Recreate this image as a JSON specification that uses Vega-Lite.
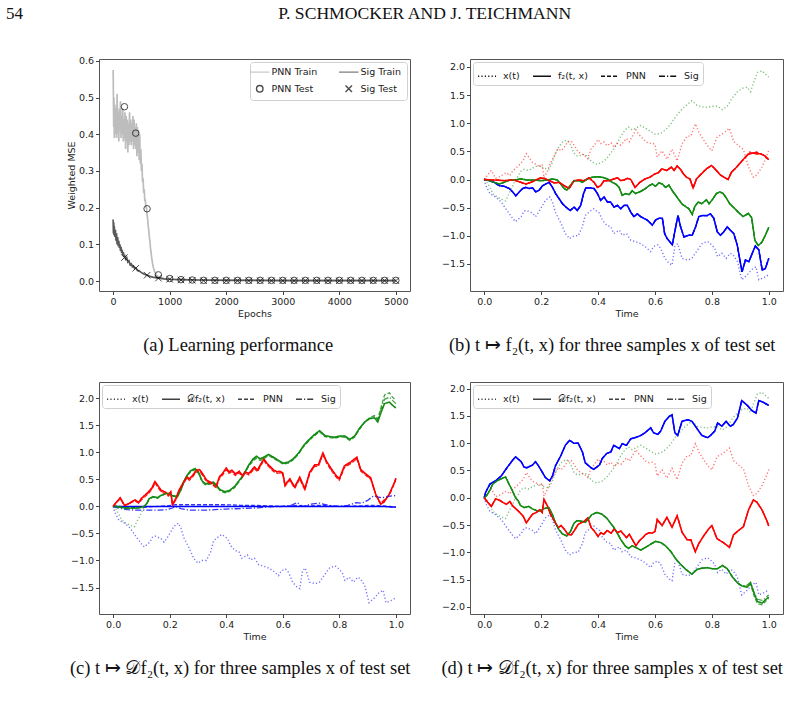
{
"$schema": "https://vega.github.io/schema/vega-lite/v6.json",
"background": "white",
"padding": {"left": 5, "top": 4, "right": 8, "bottom": 5},
"title": {"text": "54", "anchor": "start", "offset": -18, "dx": -60, "fontSize": 17},
"vconcat": [{
"title": {"text": "P. SCHMOCKER AND J. TEICHMANN", "anchor": "middle", "offset": 33, "fontSize": 17.6},
"columns": 2, "bounds": "flush", "align": "each", "spacing": {"row": 91, "column": 60},
"resolve": {"scale": {"color": "independent", "strokeDash": "independent", "shape": "independent"}, "legend": {"color": "independent", "strokeDash": "independent", "shape": "independent"}},
"concat": [
{
"width": 311, "height": 232,
"title": {"text": "(a) Learning performance", "orient": "bottom", "offset": 18, "frame": "bounds"},
"layer": [
{"data": {"name": "aTr"}, "mark": {"type": "line", "strokeWidth": 1.7},
 "encoding": {
  "x": {"field": "e", "type": "quantitative", "scale": {"domain": [-250, 5250], "nice": false, "zero": false}, "axis": {"title": "Epochs", "values": [0,1000,2000,3000,4000,5000], "tickCount": 30, "format": "d", "labelOverlap": false}},
  "y": {"field": "v", "type": "quantitative", "scale": {"domain": [-0.027, 0.605], "nice": false, "zero": false}, "axis": {"title": "Weighted MSE", "values": [0,0.1,0.2,0.3,0.4,0.5,0.6], "tickCount": 30, "format": ".1f", "labelOverlap": false}},
  "color": {"field": "m", "type": "nominal", "scale": {"domain": ["PNN Train","PNN Test","Sig Train","Sig Test"], "range": ["#bdbdbd","#000000","#5a5a5a","#000000"]},
   "legend": {"title": null, "orient": "top-right", "offset": 3, "columns": 2, "symbolSize": 42, "labelOffset": 7, "columnPadding": 18, "rowPadding": 5, "padding": 5, "symbolStrokeWidth": 1.4}}
 }},
{"data": {"name": "aTe"}, "mark": {"type": "point", "filled": false, "size": 42, "strokeWidth": 1},
 "encoding": {
  "x": {"field": "e", "type": "quantitative"},
  "y": {"field": "v", "type": "quantitative"},
  "color": {"field": "m", "type": "nominal"},
  "shape": {"field": "m", "type": "nominal", "scale": {"domain": ["PNN Train","PNN Test","Sig Train","Sig Test"], "range": ["M-3,0H3","circle","M-3,0H3","M-1,-1L1,1M1,-1L-1,1"]},
   "legend": {"title": null, "orient": "top-right", "offset": 3, "columns": 2, "symbolSize": 42, "labelOffset": 7, "columnPadding": 18, "rowPadding": 5, "padding": 5, "symbolStrokeWidth": 1.4}}
 }}
]
},
{
"width": 313, "height": 232,
"title": {"text": "(b) t ↦ f₂(t, x) for three samples x of test set", "orient": "bottom", "offset": 18, "frame": "bounds"},
"layer": [
{"data": {"name": "xp"}, "mark": {"type": "line", "strokeWidth": 1.4, "opacity": 0.55},
 "encoding": {
  "x": {"field": "t", "type": "quantitative", "scale": {"domain": [-0.05, 1.05], "nice": false, "zero": false}, "axis": {"title": "Time", "values": [0,0.2,0.4,0.6,0.8,1], "tickCount": 30, "format": ".1f", "labelOverlap": false}},
  "y": {"field": "v", "type": "quantitative", "scale": {"domain": [-1.98, 2.14], "nice": false, "zero": false}, "axis": {"title": null, "values": [-1.5,-1,-0.5,0,0.5,1,1.5,2], "tickCount": 30, "format": ".1f", "labelOverlap": false}},
  "color": {"field": "s", "type": "nominal", "scale": {"domain": ["b","g","r"], "range": ["#0000ff","#148c14","#ff0000"]}, "legend": null},
  "strokeDash": {"datum": "x(t)", "type": "nominal", "scale": {"domain": ["x(t)","f₂(t, x)","PNN","Sig"], "range": [[1.2,2.2],[1,0],[4,2],[6,2,1.2,2]]},
   "legend": {"title": null, "orient": "top-left", "offset": 3, "columns": 4, "symbolType": "stroke", "symbolSize": 324, "symbolStrokeColor": "#111", "symbolStrokeWidth": 1.3, "symbolOpacity": 1, "labelOffset": 6, "columnPadding": 10, "padding": 4}}
 }},
{"data": {"name": "fb"}, "mark": {"type": "line", "strokeWidth": 1.5},
 "encoding": {"x": {"field": "t", "type": "quantitative"}, "y": {"field": "f", "type": "quantitative"}, "color": {"field": "s", "type": "nominal"}, "strokeDash": {"datum": "f₂(t, x)", "type": "nominal"}}},
{"data": {"name": "fb"}, "mark": {"type": "line", "strokeWidth": 1.3},
 "encoding": {"x": {"field": "t", "type": "quantitative"}, "y": {"field": "p", "type": "quantitative"}, "color": {"field": "s", "type": "nominal"}, "strokeDash": {"datum": "PNN", "type": "nominal"}}},
{"data": {"name": "fb"}, "mark": {"type": "line", "strokeWidth": 1.3},
 "encoding": {"x": {"field": "t", "type": "quantitative"}, "y": {"field": "g", "type": "quantitative"}, "color": {"field": "s", "type": "nominal"}, "strokeDash": {"datum": "Sig", "type": "nominal"}}}
]
},
{
"width": 311, "height": 232,
"title": {"text": "(c) t ↦ 𝒟f₂(t, x) for three samples x of test set", "orient": "bottom", "offset": 18, "frame": "bounds"},
"layer": [
{"data": {"name": "xp"}, "mark": {"type": "line", "strokeWidth": 1.4, "opacity": 0.55},
 "encoding": {
  "x": {"field": "t", "type": "quantitative", "scale": {"domain": [-0.05, 1.05], "nice": false, "zero": false}, "axis": {"title": "Time", "values": [0,0.2,0.4,0.6,0.8,1], "tickCount": 30, "format": ".1f", "labelOverlap": false}},
  "y": {"field": "v", "type": "quantitative", "scale": {"domain": [-1.99, 2.3], "nice": false, "zero": false}, "axis": {"title": null, "values": [-1.5,-1,-0.5,0,0.5,1,1.5,2], "tickCount": 30, "format": ".1f", "labelOverlap": false}},
  "color": {"field": "s", "type": "nominal", "scale": {"domain": ["b","g","r"], "range": ["#0000ff","#148c14","#ff0000"]}, "legend": null},
  "strokeDash": {"datum": "x(t)", "type": "nominal", "scale": {"domain": ["x(t)","𝒟f₂(t, x)","PNN","Sig"], "range": [[1.2,2.2],[1,0],[4,2],[6,2,1.2,2]]},
   "legend": {"title": null, "orient": "top-left", "offset": 3, "columns": 4, "symbolType": "stroke", "symbolSize": 324, "symbolStrokeColor": "#111", "symbolStrokeWidth": 1.3, "symbolOpacity": 1, "labelOffset": 6, "columnPadding": 10, "padding": 4}}
 }},
{"data": {"name": "fc"}, "mark": {"type": "line", "strokeWidth": 1.5},
 "encoding": {"x": {"field": "t", "type": "quantitative"}, "y": {"field": "f", "type": "quantitative"}, "color": {"field": "s", "type": "nominal"}, "strokeDash": {"datum": "𝒟f₂(t, x)", "type": "nominal"}}},
{"data": {"name": "fc"}, "mark": {"type": "line", "strokeWidth": 1.3, "opacity": 0.8},
 "encoding": {"x": {"field": "t", "type": "quantitative"}, "y": {"field": "p", "type": "quantitative"}, "color": {"field": "s", "type": "nominal"}, "strokeDash": {"datum": "PNN", "type": "nominal"}}},
{"data": {"name": "fc"}, "mark": {"type": "line", "strokeWidth": 1.3, "opacity": 0.8},
 "encoding": {"x": {"field": "t", "type": "quantitative"}, "y": {"field": "g", "type": "quantitative"}, "color": {"field": "s", "type": "nominal"}, "strokeDash": {"datum": "Sig", "type": "nominal"}}}
]
},
{
"width": 313, "height": 232,
"title": {"text": "(d) t ↦ 𝒟f₂(t, x) for three samples x of test set", "orient": "bottom", "offset": 18, "frame": "bounds"},
"layer": [
{"data": {"name": "xp"}, "mark": {"type": "line", "strokeWidth": 1.4, "opacity": 0.55},
 "encoding": {
  "x": {"field": "t", "type": "quantitative", "scale": {"domain": [-0.05, 1.05], "nice": false, "zero": false}, "axis": {"title": "Time", "values": [0,0.2,0.4,0.6,0.8,1], "tickCount": 30, "format": ".1f", "labelOverlap": false}},
  "y": {"field": "v", "type": "quantitative", "scale": {"domain": [-2.13, 2.12], "nice": false, "zero": false}, "axis": {"title": null, "values": [-2,-1.5,-1,-0.5,0,0.5,1,1.5,2], "tickCount": 30, "format": ".1f", "labelOverlap": false}},
  "color": {"field": "s", "type": "nominal", "scale": {"domain": ["b","g","r"], "range": ["#0000ff","#148c14","#ff0000"]}, "legend": null},
  "strokeDash": {"datum": "x(t)", "type": "nominal", "scale": {"domain": ["x(t)","𝒟f₂(t, x)","PNN","Sig"], "range": [[1.2,2.2],[1,0],[4,2],[6,2,1.2,2]]},
   "legend": {"title": null, "orient": "top-left", "offset": 3, "columns": 4, "symbolType": "stroke", "symbolSize": 324, "symbolStrokeColor": "#111", "symbolStrokeWidth": 1.3, "symbolOpacity": 1, "labelOffset": 6, "columnPadding": 10, "padding": 4}}
 }},
{"data": {"name": "fd"}, "mark": {"type": "line", "strokeWidth": 1.5},
 "encoding": {"x": {"field": "t", "type": "quantitative"}, "y": {"field": "f", "type": "quantitative"}, "color": {"field": "s", "type": "nominal"}, "strokeDash": {"datum": "𝒟f₂(t, x)", "type": "nominal"}}},
{"data": {"name": "fd"}, "mark": {"type": "line", "strokeWidth": 1.3, "opacity": 0.8},
 "encoding": {"x": {"field": "t", "type": "quantitative"}, "y": {"field": "p", "type": "quantitative"}, "color": {"field": "s", "type": "nominal"}, "strokeDash": {"datum": "PNN", "type": "nominal"}}},
{"data": {"name": "fd"}, "mark": {"type": "line", "strokeWidth": 1.3, "opacity": 0.8},
 "encoding": {"x": {"field": "t", "type": "quantitative"}, "y": {"field": "g", "type": "quantitative"}, "color": {"field": "s", "type": "nominal"}, "strokeDash": {"datum": "Sig", "type": "nominal"}}}
]
}
]
}],
"datasets": {
"aTr": [
{"m":"PNN Train","e":0,"v":0.575},{"m":"PNN Train","e":5,"v":0.50},{"m":"PNN Train","e":10,"v":0.42},{"m":"PNN Train","e":15,"v":0.50},{"m":"PNN Train","e":20,"v":0.39},{"m":"PNN Train","e":30,"v":0.48},{"m":"PNN Train","e":40,"v":0.40},{"m":"PNN Train","e":50,"v":0.47},{"m":"PNN Train","e":60,"v":0.39},{"m":"PNN Train","e":70,"v":0.51},{"m":"PNN Train","e":80,"v":0.40},{"m":"PNN Train","e":90,"v":0.46},{"m":"PNN Train","e":100,"v":0.38},{"m":"PNN Train","e":110,"v":0.47},{"m":"PNN Train","e":120,"v":0.41},{"m":"PNN Train","e":130,"v":0.49},{"m":"PNN Train","e":140,"v":0.39},{"m":"PNN Train","e":150,"v":0.45},{"m":"PNN Train","e":160,"v":0.40},{"m":"PNN Train","e":170,"v":0.47},{"m":"PNN Train","e":180,"v":0.38},{"m":"PNN Train","e":190,"v":0.44},{"m":"PNN Train","e":200,"v":0.39},{"m":"PNN Train","e":210,"v":0.46},{"m":"PNN Train","e":220,"v":0.36},{"m":"PNN Train","e":230,"v":0.45},{"m":"PNN Train","e":240,"v":0.38},{"m":"PNN Train","e":250,"v":0.44},{"m":"PNN Train","e":260,"v":0.35},{"m":"PNN Train","e":270,"v":0.43},{"m":"PNN Train","e":280,"v":0.37},{"m":"PNN Train","e":290,"v":0.46},{"m":"PNN Train","e":300,"v":0.38},{"m":"PNN Train","e":310,"v":0.44},{"m":"PNN Train","e":320,"v":0.37},{"m":"PNN Train","e":330,"v":0.43},{"m":"PNN Train","e":340,"v":0.38},{"m":"PNN Train","e":350,"v":0.45},{"m":"PNN Train","e":360,"v":0.36},{"m":"PNN Train","e":370,"v":0.44},{"m":"PNN Train","e":380,"v":0.37},{"m":"PNN Train","e":390,"v":0.42},{"m":"PNN Train","e":400,"v":0.36},{"m":"PNN Train","e":410,"v":0.43},{"m":"PNN Train","e":420,"v":0.34},{"m":"PNN Train","e":430,"v":0.42},{"m":"PNN Train","e":440,"v":0.35},{"m":"PNN Train","e":450,"v":0.41},{"m":"PNN Train","e":460,"v":0.33},{"m":"PNN Train","e":470,"v":0.40},{"m":"PNN Train","e":480,"v":0.32},{"m":"PNN Train","e":490,"v":0.36},{"m":"PNN Train","e":500,"v":0.30},{"m":"PNN Train","e":510,"v":0.32},{"m":"PNN Train","e":520,"v":0.27},{"m":"PNN Train","e":530,"v":0.28},{"m":"PNN Train","e":540,"v":0.24},{"m":"PNN Train","e":550,"v":0.25},{"m":"PNN Train","e":560,"v":0.22},{"m":"PNN Train","e":570,"v":0.22},{"m":"PNN Train","e":580,"v":0.20},{"m":"PNN Train","e":590,"v":0.20},{"m":"PNN Train","e":600,"v":0.18},{"m":"PNN Train","e":610,"v":0.17},{"m":"PNN Train","e":620,"v":0.15},{"m":"PNN Train","e":630,"v":0.14},{"m":"PNN Train","e":640,"v":0.12},{"m":"PNN Train","e":650,"v":0.11},{"m":"PNN Train","e":660,"v":0.09},{"m":"PNN Train","e":670,"v":0.08},{"m":"PNN Train","e":680,"v":0.065},{"m":"PNN Train","e":690,"v":0.055},{"m":"PNN Train","e":700,"v":0.045},{"m":"PNN Train","e":720,"v":0.032},{"m":"PNN Train","e":740,"v":0.024},{"m":"PNN Train","e":760,"v":0.018},{"m":"PNN Train","e":780,"v":0.014},{"m":"PNN Train","e":800,"v":0.012},{"m":"PNN Train","e":850,"v":0.009},{"m":"PNN Train","e":900,"v":0.007},{"m":"PNN Train","e":1000,"v":0.005},{"m":"PNN Train","e":1200,"v":0.004},{"m":"PNN Train","e":1500,"v":0.003},{"m":"PNN Train","e":2000,"v":0.0025},{"m":"PNN Train","e":3000,"v":0.002},{"m":"PNN Train","e":4000,"v":0.002},{"m":"PNN Train","e":5000,"v":0.002},
{"m":"Sig Train","e":0,"v":0.168},{"m":"Sig Train","e":5,"v":0.13},{"m":"Sig Train","e":10,"v":0.16},{"m":"Sig Train","e":15,"v":0.125},{"m":"Sig Train","e":20,"v":0.15},{"m":"Sig Train","e":30,"v":0.12},{"m":"Sig Train","e":40,"v":0.14},{"m":"Sig Train","e":50,"v":0.11},{"m":"Sig Train","e":60,"v":0.13},{"m":"Sig Train","e":70,"v":0.10},{"m":"Sig Train","e":80,"v":0.12},{"m":"Sig Train","e":90,"v":0.095},{"m":"Sig Train","e":100,"v":0.11},{"m":"Sig Train","e":110,"v":0.09},{"m":"Sig Train","e":120,"v":0.10},{"m":"Sig Train","e":130,"v":0.082},{"m":"Sig Train","e":140,"v":0.093},{"m":"Sig Train","e":150,"v":0.077},{"m":"Sig Train","e":160,"v":0.085},{"m":"Sig Train","e":170,"v":0.071},{"m":"Sig Train","e":180,"v":0.079},{"m":"Sig Train","e":190,"v":0.066},{"m":"Sig Train","e":200,"v":0.072},{"m":"Sig Train","e":220,"v":0.060},{"m":"Sig Train","e":240,"v":0.064},{"m":"Sig Train","e":260,"v":0.052},{"m":"Sig Train","e":280,"v":0.055},{"m":"Sig Train","e":300,"v":0.045},{"m":"Sig Train","e":320,"v":0.047},{"m":"Sig Train","e":340,"v":0.039},{"m":"Sig Train","e":360,"v":0.041},{"m":"Sig Train","e":380,"v":0.034},{"m":"Sig Train","e":400,"v":0.036},{"m":"Sig Train","e":430,"v":0.029},{"m":"Sig Train","e":460,"v":0.028},{"m":"Sig Train","e":500,"v":0.023},{"m":"Sig Train","e":550,"v":0.019},{"m":"Sig Train","e":600,"v":0.016},{"m":"Sig Train","e":650,"v":0.013},{"m":"Sig Train","e":700,"v":0.011},{"m":"Sig Train","e":800,"v":0.008},{"m":"Sig Train","e":900,"v":0.006},{"m":"Sig Train","e":1000,"v":0.005},{"m":"Sig Train","e":1200,"v":0.004},{"m":"Sig Train","e":1500,"v":0.003},{"m":"Sig Train","e":2000,"v":0.002},{"m":"Sig Train","e":3000,"v":0.0015},{"m":"Sig Train","e":4000,"v":0.0012},{"m":"Sig Train","e":5000,"v":0.001}
],
"aTe": [
{"m":"PNN Test","e":200,"v":0.475},{"m":"PNN Test","e":400,"v":0.403},{"m":"PNN Test","e":600,"v":0.197},{"m":"PNN Test","e":800,"v":0.017},{"m":"PNN Test","e":1000,"v":0.007},{"m":"PNN Test","e":1200,"v":0.004},{"m":"PNN Test","e":1400,"v":0.003},{"m":"PNN Test","e":1600,"v":0.002},{"m":"PNN Test","e":1800,"v":0.002},{"m":"PNN Test","e":2000,"v":0.002},{"m":"PNN Test","e":2200,"v":0.002},{"m":"PNN Test","e":2400,"v":0.002},{"m":"PNN Test","e":2600,"v":0.002},{"m":"PNN Test","e":2800,"v":0.002},{"m":"PNN Test","e":3000,"v":0.002},{"m":"PNN Test","e":3200,"v":0.002},{"m":"PNN Test","e":3400,"v":0.002},{"m":"PNN Test","e":3600,"v":0.002},{"m":"PNN Test","e":3800,"v":0.002},{"m":"PNN Test","e":4000,"v":0.002},{"m":"PNN Test","e":4200,"v":0.002},{"m":"PNN Test","e":4400,"v":0.002},{"m":"PNN Test","e":4600,"v":0.002},{"m":"PNN Test","e":4800,"v":0.002},{"m":"PNN Test","e":5000,"v":0.002},
{"m":"Sig Test","e":200,"v":0.064},{"m":"Sig Test","e":400,"v":0.035},{"m":"Sig Test","e":600,"v":0.016},{"m":"Sig Test","e":800,"v":0.008},{"m":"Sig Test","e":1000,"v":0.005},{"m":"Sig Test","e":1200,"v":0.003},{"m":"Sig Test","e":1400,"v":0.002},{"m":"Sig Test","e":1600,"v":0.001},{"m":"Sig Test","e":1800,"v":0.001},{"m":"Sig Test","e":2000,"v":0.001},{"m":"Sig Test","e":2200,"v":0.001},{"m":"Sig Test","e":2400,"v":0.001},{"m":"Sig Test","e":2600,"v":0.001},{"m":"Sig Test","e":2800,"v":0.001},{"m":"Sig Test","e":3000,"v":0.001},{"m":"Sig Test","e":3200,"v":0.001},{"m":"Sig Test","e":3400,"v":0.001},{"m":"Sig Test","e":3600,"v":0.001},{"m":"Sig Test","e":3800,"v":0.001},{"m":"Sig Test","e":4000,"v":0.001},{"m":"Sig Test","e":4200,"v":0.001},{"m":"Sig Test","e":4400,"v":0.001},{"m":"Sig Test","e":4600,"v":0.001},{"m":"Sig Test","e":4800,"v":0.001},{"m":"Sig Test","e":5000,"v":0.001}
],
"xp": [
{"s":"b","t":0,"v":0},{"s":"b","t":0.005,"v":-0.10},{"s":"b","t":0.02,"v":-0.25},{"s":"b","t":0.04,"v":-0.31},{"s":"b","t":0.06,"v":-0.40},{"s":"b","t":0.08,"v":-0.55},{"s":"b","t":0.10,"v":-0.69},{"s":"b","t":0.11,"v":-0.75},{"s":"b","t":0.13,"v":-0.66},{"s":"b","t":0.14,"v":-0.56},{"s":"b","t":0.15,"v":-0.55},{"s":"b","t":0.17,"v":-0.60},{"s":"b","t":0.18,"v":-0.66},{"s":"b","t":0.19,"v":-0.59},{"s":"b","t":0.205,"v":-0.46},{"s":"b","t":0.215,"v":-0.37},{"s":"b","t":0.23,"v":-0.31},{"s":"b","t":0.24,"v":-0.40},{"s":"b","t":0.25,"v":-0.58},{"s":"b","t":0.27,"v":-0.78},{"s":"b","t":0.285,"v":-0.96},{"s":"b","t":0.30,"v":-1.05},{"s":"b","t":0.315,"v":-1.00},{"s":"b","t":0.33,"v":-1.00},{"s":"b","t":0.345,"v":-0.84},{"s":"b","t":0.355,"v":-0.64},{"s":"b","t":0.375,"v":-0.55},{"s":"b","t":0.385,"v":-0.52},{"s":"b","t":0.405,"v":-0.60},{"s":"b","t":0.415,"v":-0.72},{"s":"b","t":0.43,"v":-0.81},{"s":"b","t":0.445,"v":-0.84},{"s":"b","t":0.455,"v":-0.96},{"s":"b","t":0.475,"v":-0.90},{"s":"b","t":0.485,"v":-0.99},{"s":"b","t":0.50,"v":-0.96},{"s":"b","t":0.515,"v":-1.08},{"s":"b","t":0.53,"v":-1.10},{"s":"b","t":0.55,"v":-1.14},{"s":"b","t":0.565,"v":-1.19},{"s":"b","t":0.585,"v":-1.28},{"s":"b","t":0.595,"v":-1.19},{"s":"b","t":0.61,"v":-1.16},{"s":"b","t":0.62,"v":-1.22},{"s":"b","t":0.635,"v":-1.40},{"s":"b","t":0.65,"v":-1.49},{"s":"b","t":0.66,"v":-1.52},{"s":"b","t":0.67,"v":-1.19},{"s":"b","t":0.68,"v":-1.14},{"s":"b","t":0.695,"v":-1.40},{"s":"b","t":0.715,"v":-1.43},{"s":"b","t":0.73,"v":-1.40},{"s":"b","t":0.75,"v":-1.25},{"s":"b","t":0.765,"v":-1.14},{"s":"b","t":0.785,"v":-1.10},{"s":"b","t":0.795,"v":-1.14},{"s":"b","t":0.81,"v":-1.22},{"s":"b","t":0.82,"v":-1.37},{"s":"b","t":0.835,"v":-1.31},{"s":"b","t":0.85,"v":-1.40},{"s":"b","t":0.865,"v":-1.31},{"s":"b","t":0.875,"v":-1.34},{"s":"b","t":0.89,"v":-1.46},{"s":"b","t":0.905,"v":-1.78},{"s":"b","t":0.925,"v":-1.69},{"s":"b","t":0.94,"v":-1.60},{"s":"b","t":0.955,"v":-1.55},{"s":"b","t":0.965,"v":-1.78},{"s":"b","t":0.98,"v":-1.75},{"s":"b","t":1.0,"v":-1.69},
{"s":"g","t":0,"v":0},{"s":"g","t":0.01,"v":-0.05},{"s":"g","t":0.02,"v":-0.14},{"s":"g","t":0.03,"v":-0.25},{"s":"g","t":0.045,"v":-0.31},{"s":"g","t":0.065,"v":-0.36},{"s":"g","t":0.075,"v":-0.38},{"s":"g","t":0.087,"v":-0.25},{"s":"g","t":0.098,"v":-0.14},{"s":"g","t":0.11,"v":0.0},{"s":"g","t":0.12,"v":0.06},{"s":"g","t":0.127,"v":0.14},{"s":"g","t":0.14,"v":0.18},{"s":"g","t":0.157,"v":0.16},{"s":"g","t":0.168,"v":0.20},{"s":"g","t":0.186,"v":0.24},{"s":"g","t":0.198,"v":0.24},{"s":"g","t":0.209,"v":0.20},{"s":"g","t":0.227,"v":0.18},{"s":"g","t":0.239,"v":0.30},{"s":"g","t":0.25,"v":0.46},{"s":"g","t":0.262,"v":0.58},{"s":"g","t":0.274,"v":0.66},{"s":"g","t":0.29,"v":0.70},{"s":"g","t":0.303,"v":0.62},{"s":"g","t":0.315,"v":0.47},{"s":"g","t":0.326,"v":0.42},{"s":"g","t":0.343,"v":0.43},{"s":"g","t":0.355,"v":0.45},{"s":"g","t":0.366,"v":0.39},{"s":"g","t":0.378,"v":0.31},{"s":"g","t":0.396,"v":0.27},{"s":"g","t":0.413,"v":0.30},{"s":"g","t":0.43,"v":0.37},{"s":"g","t":0.443,"v":0.46},{"s":"g","t":0.455,"v":0.54},{"s":"g","t":0.467,"v":0.64},{"s":"g","t":0.479,"v":0.76},{"s":"g","t":0.495,"v":0.88},{"s":"g","t":0.507,"v":0.93},{"s":"g","t":0.52,"v":0.88},{"s":"g","t":0.532,"v":0.91},{"s":"g","t":0.55,"v":0.96},{"s":"g","t":0.567,"v":0.91},{"s":"g","t":0.585,"v":0.85},{"s":"g","t":0.602,"v":0.80},{"s":"g","t":0.62,"v":0.82},{"s":"g","t":0.637,"v":0.88},{"s":"g","t":0.655,"v":0.98},{"s":"g","t":0.673,"v":1.12},{"s":"g","t":0.69,"v":1.22},{"s":"g","t":0.708,"v":1.31},{"s":"g","t":0.73,"v":1.40},{"s":"g","t":0.749,"v":1.31},{"s":"g","t":0.767,"v":1.29},{"s":"g","t":0.784,"v":1.28},{"s":"g","t":0.80,"v":1.30},{"s":"g","t":0.82,"v":1.30},{"s":"g","t":0.837,"v":1.24},{"s":"g","t":0.854,"v":1.30},{"s":"g","t":0.872,"v":1.45},{"s":"g","t":0.89,"v":1.56},{"s":"g","t":0.907,"v":1.62},{"s":"g","t":0.924,"v":1.64},{"s":"g","t":0.936,"v":1.56},{"s":"g","t":0.947,"v":1.73},{"s":"g","t":0.96,"v":1.90},{"s":"g","t":0.977,"v":1.93},{"s":"g","t":0.988,"v":1.87},{"s":"g","t":1.0,"v":1.82},
{"s":"r","t":0,"v":0},{"s":"r","t":0.01,"v":0.07},{"s":"r","t":0.025,"v":0.16},{"s":"r","t":0.04,"v":0.02},{"s":"r","t":0.055,"v":0.05},{"s":"r","t":0.067,"v":0.09},{"s":"r","t":0.078,"v":0.12},{"s":"r","t":0.09,"v":0.07},{"s":"r","t":0.10,"v":0.15},{"s":"r","t":0.113,"v":0.21},{"s":"r","t":0.125,"v":0.27},{"s":"r","t":0.137,"v":0.34},{"s":"r","t":0.148,"v":0.46},{"s":"r","t":0.16,"v":0.37},{"s":"r","t":0.17,"v":0.30},{"s":"r","t":0.183,"v":0.27},{"s":"r","t":0.195,"v":0.22},{"s":"r","t":0.204,"v":0.27},{"s":"r","t":0.21,"v":0.03},{"s":"r","t":0.222,"v":0.15},{"s":"r","t":0.233,"v":0.30},{"s":"r","t":0.247,"v":0.43},{"s":"r","t":0.26,"v":0.55},{"s":"r","t":0.27,"v":0.51},{"s":"r","t":0.282,"v":0.58},{"s":"r","t":0.294,"v":0.67},{"s":"r","t":0.306,"v":0.68},{"s":"r","t":0.317,"v":0.60},{"s":"r","t":0.33,"v":0.49},{"s":"r","t":0.34,"v":0.46},{"s":"r","t":0.352,"v":0.43},{"s":"r","t":0.364,"v":0.37},{"s":"r","t":0.376,"v":0.55},{"s":"r","t":0.387,"v":0.61},{"s":"r","t":0.40,"v":0.71},{"s":"r","t":0.41,"v":0.64},{"s":"r","t":0.42,"v":0.67},{"s":"r","t":0.432,"v":0.60},{"s":"r","t":0.446,"v":0.65},{"s":"r","t":0.457,"v":0.57},{"s":"r","t":0.467,"v":0.64},{"s":"r","t":0.48,"v":0.61},{"s":"r","t":0.49,"v":0.67},{"s":"r","t":0.50,"v":0.73},{"s":"r","t":0.51,"v":0.67},{"s":"r","t":0.533,"v":0.88},{"s":"r","t":0.545,"v":0.79},{"s":"r","t":0.557,"v":0.73},{"s":"r","t":0.568,"v":0.67},{"s":"r","t":0.58,"v":0.64},{"s":"r","t":0.59,"v":0.65},{"s":"r","t":0.60,"v":0.62},{"s":"r","t":0.608,"v":0.40},{"s":"r","t":0.625,"v":0.51},{"s":"r","t":0.642,"v":0.36},{"s":"r","t":0.66,"v":0.54},{"s":"r","t":0.678,"v":0.33},{"s":"r","t":0.695,"v":0.63},{"s":"r","t":0.713,"v":0.77},{"s":"r","t":0.726,"v":0.77},{"s":"r","t":0.742,"v":0.99},{"s":"r","t":0.754,"v":0.84},{"s":"r","t":0.771,"v":0.70},{"s":"r","t":0.789,"v":0.57},{"s":"r","t":0.80,"v":0.51},{"s":"r","t":0.818,"v":0.75},{"s":"r","t":0.84,"v":0.82},{"s":"r","t":0.862,"v":0.91},{"s":"r","t":0.876,"v":0.68},{"s":"r","t":0.894,"v":0.60},{"s":"r","t":0.911,"v":0.53},{"s":"r","t":0.929,"v":0.22},{"s":"r","t":0.946,"v":0.04},{"s":"r","t":0.958,"v":0.08},{"s":"r","t":0.976,"v":0.22},{"s":"r","t":0.994,"v":0.43},{"s":"r","t":1.0,"v":0.52}
],
"fb": [
{"s":"b","t":0,"f":0,"p":0,"g":0},{"s":"b","t":0.018,"f":-0.02,"p":-0.02,"g":-0.02},{"s":"b","t":0.035,"f":-0.05,"p":-0.05,"g":-0.05},{"s":"b","t":0.053,"f":-0.11,"p":-0.11,"g":-0.11},{"s":"b","t":0.07,"f":-0.12,"p":-0.12,"g":-0.12},{"s":"b","t":0.088,"f":-0.16,"p":-0.16,"g":-0.16},{"s":"b","t":0.1,"f":-0.22,"p":-0.22,"g":-0.22},{"s":"b","t":0.111,"f":-0.29,"p":-0.29,"g":-0.29},{"s":"b","t":0.123,"f":-0.22,"p":-0.22,"g":-0.22},{"s":"b","t":0.135,"f":-0.16,"p":-0.16,"g":-0.16},{"s":"b","t":0.146,"f":-0.14,"p":-0.14,"g":-0.14},{"s":"b","t":0.158,"f":-0.16,"p":-0.16,"g":-0.16},{"s":"b","t":0.17,"f":-0.15,"p":-0.15,"g":-0.15},{"s":"b","t":0.181,"f":-0.22,"p":-0.22,"g":-0.22},{"s":"b","t":0.193,"f":-0.19,"p":-0.19,"g":-0.19},{"s":"b","t":0.205,"f":-0.11,"p":-0.11,"g":-0.11},{"s":"b","t":0.216,"f":-0.08,"p":-0.08,"g":-0.08},{"s":"b","t":0.228,"f":-0.05,"p":-0.05,"g":-0.05},{"s":"b","t":0.24,"f":-0.14,"p":-0.14,"g":-0.14},{"s":"b","t":0.251,"f":-0.25,"p":-0.25,"g":-0.25},{"s":"b","t":0.263,"f":-0.34,"p":-0.34,"g":-0.34},{"s":"b","t":0.275,"f":-0.43,"p":-0.43,"g":-0.43},{"s":"b","t":0.287,"f":-0.49,"p":-0.49,"g":-0.49},{"s":"b","t":0.302,"f":-0.55,"p":-0.55,"g":-0.55},{"s":"b","t":0.316,"f":-0.49,"p":-0.49,"g":-0.49},{"s":"b","t":0.327,"f":-0.55,"p":-0.55,"g":-0.55},{"s":"b","t":0.339,"f":-0.46,"p":-0.46,"g":-0.46},{"s":"b","t":0.349,"f":-0.25,"p":-0.25,"g":-0.25},{"s":"b","t":0.357,"f":-0.15,"p":-0.15,"g":-0.15},{"s":"b","t":0.374,"f":-0.15,"p":-0.15,"g":-0.15},{"s":"b","t":0.386,"f":-0.16,"p":-0.16,"g":-0.16},{"s":"b","t":0.398,"f":-0.25,"p":-0.25,"g":-0.25},{"s":"b","t":0.409,"f":-0.37,"p":-0.37,"g":-0.37},{"s":"b","t":0.421,"f":-0.31,"p":-0.31,"g":-0.31},{"s":"b","t":0.433,"f":-0.40,"p":-0.40,"g":-0.40},{"s":"b","t":0.444,"f":-0.40,"p":-0.40,"g":-0.40},{"s":"b","t":0.456,"f":-0.49,"p":-0.49,"g":-0.49},{"s":"b","t":0.468,"f":-0.46,"p":-0.46,"g":-0.46},{"s":"b","t":0.48,"f":-0.52,"p":-0.52,"g":-0.52},{"s":"b","t":0.491,"f":-0.46,"p":-0.46,"g":-0.46},{"s":"b","t":0.503,"f":-0.46,"p":-0.46,"g":-0.46},{"s":"b","t":0.515,"f":-0.58,"p":-0.58,"g":-0.58},{"s":"b","t":0.526,"f":-0.66,"p":-0.66,"g":-0.66},{"s":"b","t":0.538,"f":-0.61,"p":-0.61,"g":-0.61},{"s":"b","t":0.55,"f":-0.66,"p":-0.66,"g":-0.66},{"s":"b","t":0.561,"f":-0.69,"p":-0.69,"g":-0.69},{"s":"b","t":0.573,"f":-0.72,"p":-0.72,"g":-0.72},{"s":"b","t":0.585,"f":-0.78,"p":-0.78,"g":-0.78},{"s":"b","t":0.591,"f":-0.81,"p":-0.81,"g":-0.81},{"s":"b","t":0.602,"f":-0.72,"p":-0.72,"g":-0.72},{"s":"b","t":0.614,"f":-0.69,"p":-0.69,"g":-0.69},{"s":"b","t":0.626,"f":-0.69,"p":-0.69,"g":-0.69},{"s":"b","t":0.634,"f":-0.96,"p":-0.96,"g":-0.96},{"s":"b","t":0.643,"f":-1.05,"p":-1.05,"g":-1.05},{"s":"b","t":0.661,"f":-1.16,"p":-1.16,"g":-1.16},{"s":"b","t":0.673,"f":-0.84,"p":-0.84,"g":-0.84},{"s":"b","t":0.681,"f":-0.64,"p":-0.64,"g":-0.64},{"s":"b","t":0.69,"f":-0.84,"p":-0.84,"g":-0.84},{"s":"b","t":0.702,"f":-1.02,"p":-1.02,"g":-1.02},{"s":"b","t":0.719,"f":-0.99,"p":-0.99,"g":-0.99},{"s":"b","t":0.731,"f":-0.99,"p":-0.99,"g":-0.99},{"s":"b","t":0.743,"f":-0.84,"p":-0.84,"g":-0.84},{"s":"b","t":0.754,"f":-0.66,"p":-0.66,"g":-0.66},{"s":"b","t":0.766,"f":-0.64,"p":-0.64,"g":-0.64},{"s":"b","t":0.784,"f":-0.64,"p":-0.64,"g":-0.64},{"s":"b","t":0.795,"f":-0.61,"p":-0.61,"g":-0.61},{"s":"b","t":0.807,"f":-0.69,"p":-0.69,"g":-0.69},{"s":"b","t":0.819,"f":-0.93,"p":-0.93,"g":-0.93},{"s":"b","t":0.83,"f":-0.99,"p":-0.99,"g":-0.99},{"s":"b","t":0.842,"f":-0.93,"p":-0.93,"g":-0.93},{"s":"b","t":0.854,"f":-0.84,"p":-0.84,"g":-0.84},{"s":"b","t":0.865,"f":-0.90,"p":-0.90,"g":-0.90},{"s":"b","t":0.877,"f":-0.96,"p":-0.96,"g":-0.96},{"s":"b","t":0.889,"f":-1.16,"p":-1.16,"g":-1.16},{"s":"b","t":0.906,"f":-1.64,"p":-1.64,"g":-1.64},{"s":"b","t":0.918,"f":-1.43,"p":-1.43,"g":-1.43},{"s":"b","t":0.93,"f":-1.46,"p":-1.46,"g":-1.46},{"s":"b","t":0.942,"f":-1.31,"p":-1.31,"g":-1.31},{"s":"b","t":0.953,"f":-1.18,"p":-1.18,"g":-1.18},{"s":"b","t":0.965,"f":-1.25,"p":-1.25,"g":-1.25},{"s":"b","t":0.977,"f":-1.61,"p":-1.61,"g":-1.61},{"s":"b","t":0.988,"f":-1.58,"p":-1.58,"g":-1.58},{"s":"b","t":1.0,"f":-1.40,"p":-1.40,"g":-1.40},
{"s":"g","t":0,"f":0,"p":0,"g":0},{"s":"g","t":0.018,"f":-0.02,"p":-0.02,"g":-0.02},{"s":"g","t":0.035,"f":-0.05,"p":-0.05,"g":-0.05},{"s":"g","t":0.053,"f":-0.08,"p":-0.08,"g":-0.08},{"s":"g","t":0.07,"f":-0.05,"p":-0.05,"g":-0.05},{"s":"g","t":0.088,"f":-0.01,"p":-0.01,"g":-0.01},{"s":"g","t":0.105,"f":-0.01,"p":-0.01,"g":-0.01},{"s":"g","t":0.129,"f":0.01,"p":0.01,"g":0.01},{"s":"g","t":0.152,"f":-0.01,"p":-0.01,"g":-0.01},{"s":"g","t":0.175,"f":-0.01,"p":-0.01,"g":-0.01},{"s":"g","t":0.199,"f":-0.02,"p":-0.02,"g":-0.02},{"s":"g","t":0.222,"f":-0.01,"p":-0.01,"g":-0.01},{"s":"g","t":0.24,"f":0.01,"p":0.01,"g":0.01},{"s":"g","t":0.257,"f":-0.01,"p":-0.01,"g":-0.01},{"s":"g","t":0.269,"f":-0.08,"p":-0.08,"g":-0.08},{"s":"g","t":0.281,"f":-0.16,"p":-0.16,"g":-0.16},{"s":"g","t":0.29,"f":-0.19,"p":-0.19,"g":-0.19},{"s":"g","t":0.302,"f":-0.11,"p":-0.11,"g":-0.11},{"s":"g","t":0.316,"f":-0.02,"p":-0.02,"g":-0.02},{"s":"g","t":0.333,"f":-0.02,"p":-0.02,"g":-0.02},{"s":"g","t":0.345,"f":-0.05,"p":-0.05,"g":-0.05},{"s":"g","t":0.363,"f":0.01,"p":0.01,"g":0.01},{"s":"g","t":0.38,"f":0.04,"p":0.04,"g":0.04},{"s":"g","t":0.398,"f":0.05,"p":0.05,"g":0.05},{"s":"g","t":0.415,"f":0.04,"p":0.04,"g":0.04},{"s":"g","t":0.433,"f":0.01,"p":0.01,"g":0.01},{"s":"g","t":0.45,"f":-0.05,"p":-0.05,"g":-0.05},{"s":"g","t":0.462,"f":-0.08,"p":-0.08,"g":-0.08},{"s":"g","t":0.474,"f":-0.14,"p":-0.14,"g":-0.14},{"s":"g","t":0.485,"f":-0.28,"p":-0.28,"g":-0.28},{"s":"g","t":0.497,"f":-0.25,"p":-0.25,"g":-0.25},{"s":"g","t":0.509,"f":-0.27,"p":-0.27,"g":-0.27},{"s":"g","t":0.52,"f":-0.20,"p":-0.20,"g":-0.20},{"s":"g","t":0.532,"f":-0.25,"p":-0.25,"g":-0.25},{"s":"g","t":0.55,"f":-0.21,"p":-0.21,"g":-0.21},{"s":"g","t":0.567,"f":-0.16,"p":-0.16,"g":-0.16},{"s":"g","t":0.579,"f":-0.11,"p":-0.11,"g":-0.11},{"s":"g","t":0.591,"f":-0.08,"p":-0.08,"g":-0.08},{"s":"g","t":0.602,"f":-0.12,"p":-0.12,"g":-0.12},{"s":"g","t":0.614,"f":-0.06,"p":-0.06,"g":-0.06},{"s":"g","t":0.626,"f":-0.08,"p":-0.08,"g":-0.08},{"s":"g","t":0.637,"f":-0.14,"p":-0.14,"g":-0.14},{"s":"g","t":0.649,"f":-0.10,"p":-0.10,"g":-0.10},{"s":"g","t":0.661,"f":-0.20,"p":-0.20,"g":-0.20},{"s":"g","t":0.673,"f":-0.28,"p":-0.28,"g":-0.28},{"s":"g","t":0.684,"f":-0.36,"p":-0.36,"g":-0.36},{"s":"g","t":0.696,"f":-0.44,"p":-0.44,"g":-0.44},{"s":"g","t":0.708,"f":-0.48,"p":-0.48,"g":-0.48},{"s":"g","t":0.719,"f":-0.52,"p":-0.52,"g":-0.52},{"s":"g","t":0.731,"f":-0.62,"p":-0.62,"g":-0.62},{"s":"g","t":0.74,"f":-0.48,"p":-0.48,"g":-0.48},{"s":"g","t":0.752,"f":-0.40,"p":-0.40,"g":-0.40},{"s":"g","t":0.764,"f":-0.43,"p":-0.43,"g":-0.43},{"s":"g","t":0.781,"f":-0.36,"p":-0.36,"g":-0.36},{"s":"g","t":0.79,"f":-0.43,"p":-0.43,"g":-0.43},{"s":"g","t":0.80,"f":-0.37,"p":-0.37,"g":-0.37},{"s":"g","t":0.816,"f":-0.25,"p":-0.25,"g":-0.25},{"s":"g","t":0.828,"f":-0.22,"p":-0.22,"g":-0.22},{"s":"g","t":0.84,"f":-0.25,"p":-0.25,"g":-0.25},{"s":"g","t":0.852,"f":-0.34,"p":-0.34,"g":-0.34},{"s":"g","t":0.863,"f":-0.43,"p":-0.43,"g":-0.43},{"s":"g","t":0.875,"f":-0.49,"p":-0.49,"g":-0.49},{"s":"g","t":0.893,"f":-0.58,"p":-0.58,"g":-0.58},{"s":"g","t":0.91,"f":-0.66,"p":-0.66,"g":-0.66},{"s":"g","t":0.928,"f":-0.60,"p":-0.60,"g":-0.60},{"s":"g","t":0.94,"f":-0.68,"p":-0.68,"g":-0.68},{"s":"g","t":0.951,"f":-1.08,"p":-1.08,"g":-1.08},{"s":"g","t":0.963,"f":-1.17,"p":-1.17,"g":-1.17},{"s":"g","t":0.975,"f":-1.12,"p":-1.12,"g":-1.12},{"s":"g","t":0.987,"f":-1.0,"p":-1.0,"g":-1.0},{"s":"g","t":1.0,"f":-0.85,"p":-0.85,"g":-0.85},
{"s":"r","t":0,"f":0,"p":0,"g":0},{"s":"r","t":0.035,"f":-0.01,"p":-0.01,"g":-0.01},{"s":"r","t":0.07,"f":-0.02,"p":-0.02,"g":-0.02},{"s":"r","t":0.105,"f":-0.01,"p":-0.01,"g":-0.01},{"s":"r","t":0.129,"f":-0.05,"p":-0.05,"g":-0.05},{"s":"r","t":0.146,"f":-0.08,"p":-0.08,"g":-0.08},{"s":"r","t":0.164,"f":-0.05,"p":-0.05,"g":-0.05},{"s":"r","t":0.181,"f":-0.01,"p":-0.01,"g":-0.01},{"s":"r","t":0.199,"f":0.03,"p":0.03,"g":0.03},{"s":"r","t":0.216,"f":0.01,"p":0.01,"g":0.01},{"s":"r","t":0.228,"f":-0.02,"p":-0.02,"g":-0.02},{"s":"r","t":0.246,"f":-0.06,"p":-0.06,"g":-0.06},{"s":"r","t":0.263,"f":-0.05,"p":-0.05,"g":-0.05},{"s":"r","t":0.281,"f":-0.11,"p":-0.11,"g":-0.11},{"s":"r","t":0.298,"f":-0.16,"p":-0.16,"g":-0.16},{"s":"r","t":0.316,"f":-0.02,"p":-0.02,"g":-0.02},{"s":"r","t":0.333,"f":-0.01,"p":-0.01,"g":-0.01},{"s":"r","t":0.351,"f":-0.02,"p":-0.02,"g":-0.02},{"s":"r","t":0.368,"f":0.03,"p":0.03,"g":0.03},{"s":"r","t":0.386,"f":-0.05,"p":-0.05,"g":-0.05},{"s":"r","t":0.398,"f":-0.14,"p":-0.14,"g":-0.14},{"s":"r","t":0.409,"f":-0.11,"p":-0.11,"g":-0.11},{"s":"r","t":0.421,"f":-0.02,"p":-0.02,"g":-0.02},{"s":"r","t":0.439,"f":-0.02,"p":-0.02,"g":-0.02},{"s":"r","t":0.456,"f":0.01,"p":0.01,"g":0.01},{"s":"r","t":0.468,"f":0.03,"p":0.03,"g":0.03},{"s":"r","t":0.48,"f":-0.02,"p":-0.02,"g":-0.02},{"s":"r","t":0.491,"f":-0.01,"p":-0.01,"g":-0.01},{"s":"r","t":0.503,"f":0.02,"p":0.02,"g":0.02},{"s":"r","t":0.515,"f":0.0,"p":0.0,"g":0.0},{"s":"r","t":0.53,"f":-0.14,"p":-0.14,"g":-0.14},{"s":"r","t":0.547,"f":-0.05,"p":-0.05,"g":-0.05},{"s":"r","t":0.565,"f":0.01,"p":0.01,"g":0.01},{"s":"r","t":0.582,"f":0.04,"p":0.04,"g":0.04},{"s":"r","t":0.60,"f":0.10,"p":0.10,"g":0.10},{"s":"r","t":0.612,"f":0.12,"p":0.12,"g":0.12},{"s":"r","t":0.624,"f":0.19,"p":0.19,"g":0.19},{"s":"r","t":0.641,"f":0.16,"p":0.16,"g":0.16},{"s":"r","t":0.658,"f":0.22,"p":0.22,"g":0.22},{"s":"r","t":0.667,"f":0.16,"p":0.16,"g":0.16},{"s":"r","t":0.678,"f":0.24,"p":0.24,"g":0.24},{"s":"r","t":0.69,"f":0.18,"p":0.18,"g":0.18},{"s":"r","t":0.70,"f":0.10,"p":0.10,"g":0.10},{"s":"r","t":0.711,"f":0.04,"p":0.04,"g":0.04},{"s":"r","t":0.723,"f":0.01,"p":0.01,"g":0.01},{"s":"r","t":0.734,"f":-0.15,"p":-0.15,"g":-0.15},{"s":"r","t":0.746,"f":0.01,"p":0.01,"g":0.01},{"s":"r","t":0.763,"f":0.10,"p":0.10,"g":0.10},{"s":"r","t":0.781,"f":0.19,"p":0.19,"g":0.19},{"s":"r","t":0.799,"f":0.25,"p":0.25,"g":0.25},{"s":"r","t":0.816,"f":0.16,"p":0.16,"g":0.16},{"s":"r","t":0.83,"f":0.08,"p":0.08,"g":0.08},{"s":"r","t":0.84,"f":0.05,"p":0.05,"g":0.05},{"s":"r","t":0.857,"f":0.0,"p":0.0,"g":0.0},{"s":"r","t":0.869,"f":0.13,"p":0.13,"g":0.13},{"s":"r","t":0.887,"f":0.22,"p":0.22,"g":0.22},{"s":"r","t":0.904,"f":0.32,"p":0.32,"g":0.32},{"s":"r","t":0.922,"f":0.42,"p":0.42,"g":0.42},{"s":"r","t":0.933,"f":0.47,"p":0.45,"g":0.49},{"s":"r","t":0.957,"f":0.47,"p":0.49,"g":0.45},{"s":"r","t":0.974,"f":0.45,"p":0.45,"g":0.45},{"s":"r","t":0.986,"f":0.42,"p":0.42,"g":0.42},{"s":"r","t":1.0,"f":0.35,"p":0.35,"g":0.35}
],
"fc": [
{"s":"b","t":0,"f":0,"p":0,"g":0},{"s":"b","t":0.02,"f":0,"p":0,"g":-0.03},{"s":"b","t":0.05,"f":0,"p":-0.01,"g":-0.06},{"s":"b","t":0.08,"f":0,"p":-0.02,"g":-0.07},{"s":"b","t":0.1,"f":0,"p":-0.02,"g":-0.07},{"s":"b","t":0.13,"f":0,"p":-0.01,"g":-0.07},{"s":"b","t":0.16,"f":0,"p":0,"g":-0.07},{"s":"b","t":0.19,"f":0,"p":0.01,"g":-0.06},{"s":"b","t":0.21,"f":0,"p":0.02,"g":-0.03},{"s":"b","t":0.22,"f":0,"p":0.03,"g":0.0},{"s":"b","t":0.24,"f":0,"p":0.03,"g":-0.04},{"s":"b","t":0.27,"f":0,"p":0.03,"g":-0.07},{"s":"b","t":0.3,"f":0,"p":0.03,"g":-0.07},{"s":"b","t":0.33,"f":0,"p":0.03,"g":-0.07},{"s":"b","t":0.36,"f":0,"p":0.03,"g":-0.06},{"s":"b","t":0.4,"f":0,"p":0.03,"g":-0.05},{"s":"b","t":0.45,"f":0,"p":0.02,"g":-0.04},{"s":"b","t":0.5,"f":0,"p":0.02,"g":-0.03},{"s":"b","t":0.55,"f":0,"p":0.01,"g":-0.01},{"s":"b","t":0.6,"f":0,"p":0,"g":0.0},{"s":"b","t":0.63,"f":0,"p":0.01,"g":0.02},{"s":"b","t":0.65,"f":0,"p":0.02,"g":0.07},{"s":"b","t":0.67,"f":0,"p":0,"g":0.0},{"s":"b","t":0.7,"f":0,"p":0.01,"g":0.04},{"s":"b","t":0.73,"f":0,"p":0.02,"g":0.06},{"s":"b","t":0.76,"f":0,"p":0.01,"g":0.02},{"s":"b","t":0.8,"f":0,"p":0,"g":0.0},{"s":"b","t":0.83,"f":0,"p":0,"g":0.02},{"s":"b","t":0.86,"f":0,"p":0.01,"g":0.07},{"s":"b","t":0.88,"f":0,"p":0.01,"g":0.06},{"s":"b","t":0.9,"f":0,"p":0.02,"g":0.11},{"s":"b","t":0.92,"f":0,"p":0.02,"g":0.19},{"s":"b","t":0.95,"f":0,"p":0.01,"g":0.16},{"s":"b","t":0.98,"f":-0.01,"p":0,"g":0.19},{"s":"b","t":1.0,"f":-0.01,"p":-0.02,"g":0.2},
{"s":"g","t":0,"f":0,"p":0,"g":0},{"s":"g","t":0.01,"f":0.0,"p":0.01,"g":-0.01},{"s":"g","t":0.02,"f":-0.01,"p":0.0,"g":-0.02},{"s":"g","t":0.03,"f":-0.02,"p":-0.01,"g":-0.03},{"s":"g","t":0.045,"f":-0.03,"p":-0.02,"g":-0.04},{"s":"g","t":0.065,"f":-0.03,"p":-0.03,"g":-0.04},{"s":"g","t":0.075,"f":-0.03,"p":-0.03,"g":-0.03},{"s":"g","t":0.087,"f":-0.03,"p":-0.02,"g":-0.03},{"s":"g","t":0.098,"f":-0.02,"p":-0.02,"g":-0.02},{"s":"g","t":0.11,"f":0.0,"p":0.0,"g":0.0},{"s":"g","t":0.12,"f":0.06,"p":0.06,"g":0.06},{"s":"g","t":0.127,"f":0.14,"p":0.13,"g":0.14},{"s":"g","t":0.14,"f":0.18,"p":0.17,"g":0.18},{"s":"g","t":0.157,"f":0.16,"p":0.15,"g":0.16},{"s":"g","t":0.168,"f":0.20,"p":0.19,"g":0.20},{"s":"g","t":0.186,"f":0.24,"p":0.23,"g":0.24},{"s":"g","t":0.198,"f":0.24,"p":0.23,"g":0.24},{"s":"g","t":0.209,"f":0.20,"p":0.19,"g":0.20},{"s":"g","t":0.227,"f":0.18,"p":0.17,"g":0.18},{"s":"g","t":0.239,"f":0.30,"p":0.29,"g":0.30},{"s":"g","t":0.25,"f":0.46,"p":0.44,"g":0.45},{"s":"g","t":0.262,"f":0.58,"p":0.56,"g":0.57},{"s":"g","t":0.274,"f":0.66,"p":0.64,"g":0.65},{"s":"g","t":0.29,"f":0.70,"p":0.68,"g":0.69},{"s":"g","t":0.303,"f":0.62,"p":0.60,"g":0.61},{"s":"g","t":0.315,"f":0.47,"p":0.45,"g":0.46},{"s":"g","t":0.326,"f":0.42,"p":0.40,"g":0.41},{"s":"g","t":0.343,"f":0.43,"p":0.41,"g":0.42},{"s":"g","t":0.355,"f":0.45,"p":0.43,"g":0.44},{"s":"g","t":0.366,"f":0.39,"p":0.37,"g":0.38},{"s":"g","t":0.378,"f":0.31,"p":0.29,"g":0.30},{"s":"g","t":0.396,"f":0.27,"p":0.25,"g":0.26},{"s":"g","t":0.413,"f":0.30,"p":0.28,"g":0.29},{"s":"g","t":0.43,"f":0.37,"p":0.35,"g":0.36},{"s":"g","t":0.443,"f":0.46,"p":0.44,"g":0.45},{"s":"g","t":0.455,"f":0.54,"p":0.52,"g":0.53},{"s":"g","t":0.467,"f":0.64,"p":0.62,"g":0.63},{"s":"g","t":0.479,"f":0.76,"p":0.74,"g":0.75},{"s":"g","t":0.495,"f":0.88,"p":0.84,"g":0.86},{"s":"g","t":0.507,"f":0.93,"p":0.89,"g":0.91},{"s":"g","t":0.52,"f":0.88,"p":0.85,"g":0.87},{"s":"g","t":0.532,"f":0.91,"p":0.88,"g":0.90},{"s":"g","t":0.55,"f":0.96,"p":0.94,"g":0.95},{"s":"g","t":0.567,"f":0.91,"p":0.89,"g":0.90},{"s":"g","t":0.585,"f":0.85,"p":0.83,"g":0.84},{"s":"g","t":0.602,"f":0.80,"p":0.78,"g":0.79},{"s":"g","t":0.62,"f":0.82,"p":0.80,"g":0.81},{"s":"g","t":0.637,"f":0.88,"p":0.86,"g":0.87},{"s":"g","t":0.655,"f":0.98,"p":0.96,"g":0.97},{"s":"g","t":0.673,"f":1.12,"p":1.10,"g":1.11},{"s":"g","t":0.69,"f":1.22,"p":1.20,"g":1.21},{"s":"g","t":0.708,"f":1.31,"p":1.29,"g":1.30},{"s":"g","t":0.73,"f":1.40,"p":1.38,"g":1.39},{"s":"g","t":0.749,"f":1.31,"p":1.29,"g":1.30},{"s":"g","t":0.767,"f":1.29,"p":1.27,"g":1.28},{"s":"g","t":0.784,"f":1.28,"p":1.26,"g":1.27},{"s":"g","t":0.80,"f":1.30,"p":1.28,"g":1.29},{"s":"g","t":0.82,"f":1.30,"p":1.28,"g":1.29},{"s":"g","t":0.837,"f":1.24,"p":1.22,"g":1.23},{"s":"g","t":0.854,"f":1.30,"p":1.28,"g":1.29},{"s":"g","t":0.872,"f":1.45,"p":1.43,"g":1.44},{"s":"g","t":0.89,"f":1.56,"p":1.56,"g":1.57},{"s":"g","t":0.907,"f":1.62,"p":1.64,"g":1.63},{"s":"g","t":0.924,"f":1.64,"p":1.68,"g":1.66},{"s":"g","t":0.936,"f":1.56,"p":1.62,"g":1.60},{"s":"g","t":0.947,"f":1.73,"p":1.82,"g":1.78},{"s":"g","t":0.96,"f":1.90,"p":2.06,"g":1.98},{"s":"g","t":0.977,"f":1.93,"p":2.10,"g":2.02},{"s":"g","t":0.988,"f":1.87,"p":2.02,"g":1.96},{"s":"g","t":1.0,"f":1.82,"p":1.96,"g":1.90},
{"s":"r","t":0,"f":0,"p":0,"g":0},{"s":"r","t":0.01,"f":0.07,"p":0.06,"g":0.07},{"s":"r","t":0.025,"f":0.16,"p":0.14,"g":0.15},{"s":"r","t":0.04,"f":0.02,"p":0.02,"g":0.02},{"s":"r","t":0.055,"f":0.05,"p":0.04,"g":0.05},{"s":"r","t":0.067,"f":0.09,"p":0.08,"g":0.09},{"s":"r","t":0.078,"f":0.12,"p":0.10,"g":0.11},{"s":"r","t":0.09,"f":0.07,"p":0.06,"g":0.07},{"s":"r","t":0.10,"f":0.15,"p":0.12,"g":0.13},{"s":"r","t":0.113,"f":0.21,"p":0.18,"g":0.19},{"s":"r","t":0.125,"f":0.27,"p":0.24,"g":0.25},{"s":"r","t":0.137,"f":0.34,"p":0.31,"g":0.32},{"s":"r","t":0.148,"f":0.46,"p":0.43,"g":0.44},{"s":"r","t":0.16,"f":0.37,"p":0.34,"g":0.35},{"s":"r","t":0.17,"f":0.30,"p":0.27,"g":0.28},{"s":"r","t":0.183,"f":0.27,"p":0.24,"g":0.25},{"s":"r","t":0.195,"f":0.22,"p":0.19,"g":0.20},{"s":"r","t":0.204,"f":0.27,"p":0.24,"g":0.25},{"s":"r","t":0.21,"f":0.03,"p":0.03,"g":0.03},{"s":"r","t":0.222,"f":0.15,"p":0.12,"g":0.13},{"s":"r","t":0.233,"f":0.30,"p":0.27,"g":0.28},{"s":"r","t":0.247,"f":0.43,"p":0.40,"g":0.41},{"s":"r","t":0.26,"f":0.55,"p":0.52,"g":0.53},{"s":"r","t":0.27,"f":0.51,"p":0.48,"g":0.49},{"s":"r","t":0.282,"f":0.58,"p":0.55,"g":0.56},{"s":"r","t":0.294,"f":0.67,"p":0.64,"g":0.65},{"s":"r","t":0.306,"f":0.68,"p":0.65,"g":0.66},{"s":"r","t":0.317,"f":0.60,"p":0.57,"g":0.58},{"s":"r","t":0.33,"f":0.49,"p":0.46,"g":0.47},{"s":"r","t":0.34,"f":0.46,"p":0.43,"g":0.44},{"s":"r","t":0.352,"f":0.43,"p":0.40,"g":0.41},{"s":"r","t":0.364,"f":0.37,"p":0.34,"g":0.35},{"s":"r","t":0.376,"f":0.55,"p":0.52,"g":0.53},{"s":"r","t":0.387,"f":0.61,"p":0.58,"g":0.59},{"s":"r","t":0.40,"f":0.71,"p":0.68,"g":0.69},{"s":"r","t":0.41,"f":0.64,"p":0.61,"g":0.62},{"s":"r","t":0.42,"f":0.67,"p":0.64,"g":0.65},{"s":"r","t":0.432,"f":0.60,"p":0.57,"g":0.58},{"s":"r","t":0.446,"f":0.65,"p":0.62,"g":0.63},{"s":"r","t":0.457,"f":0.57,"p":0.54,"g":0.55},{"s":"r","t":0.467,"f":0.64,"p":0.61,"g":0.62},{"s":"r","t":0.48,"f":0.61,"p":0.58,"g":0.59},{"s":"r","t":0.49,"f":0.67,"p":0.64,"g":0.65},{"s":"r","t":0.50,"f":0.73,"p":0.70,"g":0.71},{"s":"r","t":0.51,"f":0.67,"p":0.64,"g":0.65},{"s":"r","t":0.533,"f":0.88,"p":0.85,"g":0.86},{"s":"r","t":0.545,"f":0.79,"p":0.76,"g":0.77},{"s":"r","t":0.557,"f":0.73,"p":0.70,"g":0.71},{"s":"r","t":0.568,"f":0.67,"p":0.64,"g":0.65},{"s":"r","t":0.58,"f":0.64,"p":0.61,"g":0.62},{"s":"r","t":0.59,"f":0.65,"p":0.62,"g":0.63},{"s":"r","t":0.60,"f":0.62,"p":0.59,"g":0.60},{"s":"r","t":0.608,"f":0.40,"p":0.37,"g":0.38},{"s":"r","t":0.625,"f":0.51,"p":0.48,"g":0.49},{"s":"r","t":0.642,"f":0.36,"p":0.33,"g":0.34},{"s":"r","t":0.66,"f":0.54,"p":0.51,"g":0.52},{"s":"r","t":0.678,"f":0.33,"p":0.30,"g":0.31},{"s":"r","t":0.695,"f":0.63,"p":0.60,"g":0.61},{"s":"r","t":0.713,"f":0.77,"p":0.74,"g":0.75},{"s":"r","t":0.726,"f":0.77,"p":0.74,"g":0.75},{"s":"r","t":0.742,"f":0.99,"p":0.96,"g":0.97},{"s":"r","t":0.754,"f":0.84,"p":0.81,"g":0.82},{"s":"r","t":0.771,"f":0.70,"p":0.67,"g":0.68},{"s":"r","t":0.789,"f":0.57,"p":0.54,"g":0.55},{"s":"r","t":0.80,"f":0.51,"p":0.48,"g":0.49},{"s":"r","t":0.818,"f":0.75,"p":0.72,"g":0.73},{"s":"r","t":0.84,"f":0.82,"p":0.79,"g":0.80},{"s":"r","t":0.862,"f":0.91,"p":0.88,"g":0.89},{"s":"r","t":0.876,"f":0.68,"p":0.65,"g":0.66},{"s":"r","t":0.894,"f":0.60,"p":0.57,"g":0.58},{"s":"r","t":0.911,"f":0.53,"p":0.50,"g":0.51},{"s":"r","t":0.929,"f":0.22,"p":0.22,"g":0.22},{"s":"r","t":0.946,"f":0.04,"p":0.05,"g":0.06},{"s":"r","t":0.958,"f":0.08,"p":0.12,"g":0.10},{"s":"r","t":0.976,"f":0.22,"p":0.20,"g":0.21},{"s":"r","t":0.994,"f":0.43,"p":0.41,"g":0.42},{"s":"r","t":1.0,"f":0.52,"p":0.50,"g":0.51}
],
"fd": [
{"s":"b","t":0,"f":0,"p":0,"g":0},{"s":"b","t":0.005,"f":0.10,"p":0.10,"g":0.10},{"s":"b","t":0.02,"f":0.25,"p":0.25,"g":0.25},{"s":"b","t":0.04,"f":0.31,"p":0.31,"g":0.31},{"s":"b","t":0.06,"f":0.40,"p":0.40,"g":0.40},{"s":"b","t":0.08,"f":0.55,"p":0.55,"g":0.55},{"s":"b","t":0.10,"f":0.69,"p":0.69,"g":0.69},{"s":"b","t":0.11,"f":0.75,"p":0.75,"g":0.75},{"s":"b","t":0.13,"f":0.66,"p":0.66,"g":0.66},{"s":"b","t":0.14,"f":0.56,"p":0.56,"g":0.56},{"s":"b","t":0.15,"f":0.55,"p":0.55,"g":0.55},{"s":"b","t":0.17,"f":0.60,"p":0.60,"g":0.60},{"s":"b","t":0.18,"f":0.66,"p":0.66,"g":0.66},{"s":"b","t":0.19,"f":0.59,"p":0.59,"g":0.59},{"s":"b","t":0.205,"f":0.46,"p":0.46,"g":0.46},{"s":"b","t":0.215,"f":0.37,"p":0.37,"g":0.37},{"s":"b","t":0.23,"f":0.31,"p":0.31,"g":0.31},{"s":"b","t":0.24,"f":0.40,"p":0.40,"g":0.40},{"s":"b","t":0.25,"f":0.58,"p":0.58,"g":0.58},{"s":"b","t":0.27,"f":0.78,"p":0.78,"g":0.78},{"s":"b","t":0.285,"f":0.96,"p":0.96,"g":0.96},{"s":"b","t":0.30,"f":1.05,"p":1.05,"g":1.05},{"s":"b","t":0.315,"f":1.00,"p":1.00,"g":1.00},{"s":"b","t":0.33,"f":1.00,"p":1.00,"g":1.00},{"s":"b","t":0.345,"f":0.84,"p":0.84,"g":0.84},{"s":"b","t":0.355,"f":0.64,"p":0.64,"g":0.64},{"s":"b","t":0.375,"f":0.55,"p":0.55,"g":0.55},{"s":"b","t":0.385,"f":0.52,"p":0.52,"g":0.52},{"s":"b","t":0.405,"f":0.60,"p":0.60,"g":0.60},{"s":"b","t":0.415,"f":0.72,"p":0.72,"g":0.72},{"s":"b","t":0.43,"f":0.81,"p":0.81,"g":0.81},{"s":"b","t":0.445,"f":0.84,"p":0.84,"g":0.84},{"s":"b","t":0.455,"f":0.96,"p":0.96,"g":0.96},{"s":"b","t":0.475,"f":0.90,"p":0.90,"g":0.90},{"s":"b","t":0.485,"f":0.99,"p":0.99,"g":0.99},{"s":"b","t":0.50,"f":0.96,"p":0.96,"g":0.96},{"s":"b","t":0.515,"f":1.08,"p":1.08,"g":1.08},{"s":"b","t":0.53,"f":1.10,"p":1.10,"g":1.10},{"s":"b","t":0.55,"f":1.14,"p":1.14,"g":1.14},{"s":"b","t":0.565,"f":1.19,"p":1.19,"g":1.19},{"s":"b","t":0.585,"f":1.28,"p":1.28,"g":1.28},{"s":"b","t":0.595,"f":1.19,"p":1.19,"g":1.19},{"s":"b","t":0.61,"f":1.16,"p":1.16,"g":1.16},{"s":"b","t":0.62,"f":1.22,"p":1.22,"g":1.22},{"s":"b","t":0.635,"f":1.40,"p":1.40,"g":1.40},{"s":"b","t":0.65,"f":1.49,"p":1.49,"g":1.49},{"s":"b","t":0.66,"f":1.52,"p":1.52,"g":1.52},{"s":"b","t":0.67,"f":1.19,"p":1.19,"g":1.19},{"s":"b","t":0.68,"f":1.14,"p":1.14,"g":1.14},{"s":"b","t":0.695,"f":1.40,"p":1.40,"g":1.40},{"s":"b","t":0.715,"f":1.43,"p":1.43,"g":1.43},{"s":"b","t":0.73,"f":1.40,"p":1.40,"g":1.40},{"s":"b","t":0.75,"f":1.25,"p":1.25,"g":1.25},{"s":"b","t":0.765,"f":1.14,"p":1.14,"g":1.14},{"s":"b","t":0.785,"f":1.10,"p":1.10,"g":1.10},{"s":"b","t":0.795,"f":1.14,"p":1.14,"g":1.14},{"s":"b","t":0.81,"f":1.22,"p":1.22,"g":1.22},{"s":"b","t":0.82,"f":1.37,"p":1.37,"g":1.37},{"s":"b","t":0.835,"f":1.31,"p":1.31,"g":1.31},{"s":"b","t":0.85,"f":1.40,"p":1.40,"g":1.40},{"s":"b","t":0.865,"f":1.31,"p":1.31,"g":1.31},{"s":"b","t":0.875,"f":1.34,"p":1.34,"g":1.34},{"s":"b","t":0.89,"f":1.46,"p":1.46,"g":1.46},{"s":"b","t":0.905,"f":1.78,"p":1.78,"g":1.78},{"s":"b","t":0.925,"f":1.69,"p":1.69,"g":1.69},{"s":"b","t":0.94,"f":1.60,"p":1.60,"g":1.60},{"s":"b","t":0.955,"f":1.55,"p":1.55,"g":1.55},{"s":"b","t":0.965,"f":1.78,"p":1.78,"g":1.78},{"s":"b","t":0.98,"f":1.75,"p":1.75,"g":1.75},{"s":"b","t":1.0,"f":1.69,"p":1.69,"g":1.69},
{"s":"g","t":0,"f":0,"p":0,"g":0},{"s":"g","t":0.01,"f":0.05,"p":0.05,"g":0.05},{"s":"g","t":0.02,"f":0.14,"p":0.14,"g":0.14},{"s":"g","t":0.03,"f":0.25,"p":0.25,"g":0.25},{"s":"g","t":0.045,"f":0.31,"p":0.31,"g":0.31},{"s":"g","t":0.065,"f":0.36,"p":0.36,"g":0.36},{"s":"g","t":0.075,"f":0.38,"p":0.38,"g":0.38},{"s":"g","t":0.087,"f":0.25,"p":0.25,"g":0.25},{"s":"g","t":0.098,"f":0.14,"p":0.14,"g":0.14},{"s":"g","t":0.11,"f":0.0,"p":0.0,"g":0.0},{"s":"g","t":0.12,"f":-0.06,"p":-0.06,"g":-0.06},{"s":"g","t":0.127,"f":-0.14,"p":-0.14,"g":-0.14},{"s":"g","t":0.14,"f":-0.18,"p":-0.18,"g":-0.18},{"s":"g","t":0.157,"f":-0.16,"p":-0.16,"g":-0.16},{"s":"g","t":0.168,"f":-0.20,"p":-0.20,"g":-0.20},{"s":"g","t":0.186,"f":-0.24,"p":-0.24,"g":-0.24},{"s":"g","t":0.198,"f":-0.24,"p":-0.24,"g":-0.24},{"s":"g","t":0.209,"f":-0.20,"p":-0.20,"g":-0.20},{"s":"g","t":0.227,"f":-0.18,"p":-0.18,"g":-0.18},{"s":"g","t":0.239,"f":-0.30,"p":-0.30,"g":-0.30},{"s":"g","t":0.25,"f":-0.46,"p":-0.46,"g":-0.46},{"s":"g","t":0.262,"f":-0.58,"p":-0.58,"g":-0.58},{"s":"g","t":0.274,"f":-0.66,"p":-0.66,"g":-0.66},{"s":"g","t":0.29,"f":-0.70,"p":-0.70,"g":-0.70},{"s":"g","t":0.303,"f":-0.62,"p":-0.62,"g":-0.62},{"s":"g","t":0.315,"f":-0.47,"p":-0.47,"g":-0.47},{"s":"g","t":0.326,"f":-0.42,"p":-0.42,"g":-0.42},{"s":"g","t":0.343,"f":-0.43,"p":-0.43,"g":-0.43},{"s":"g","t":0.355,"f":-0.45,"p":-0.45,"g":-0.45},{"s":"g","t":0.366,"f":-0.39,"p":-0.39,"g":-0.39},{"s":"g","t":0.378,"f":-0.31,"p":-0.31,"g":-0.31},{"s":"g","t":0.396,"f":-0.27,"p":-0.27,"g":-0.27},{"s":"g","t":0.413,"f":-0.30,"p":-0.30,"g":-0.30},{"s":"g","t":0.43,"f":-0.37,"p":-0.37,"g":-0.37},{"s":"g","t":0.443,"f":-0.46,"p":-0.46,"g":-0.46},{"s":"g","t":0.455,"f":-0.54,"p":-0.54,"g":-0.54},{"s":"g","t":0.467,"f":-0.64,"p":-0.64,"g":-0.64},{"s":"g","t":0.479,"f":-0.76,"p":-0.76,"g":-0.76},{"s":"g","t":0.495,"f":-0.88,"p":-0.88,"g":-0.88},{"s":"g","t":0.507,"f":-0.93,"p":-0.93,"g":-0.93},{"s":"g","t":0.52,"f":-0.88,"p":-0.88,"g":-0.88},{"s":"g","t":0.532,"f":-0.91,"p":-0.91,"g":-0.91},{"s":"g","t":0.55,"f":-0.96,"p":-0.96,"g":-0.96},{"s":"g","t":0.567,"f":-0.91,"p":-0.91,"g":-0.91},{"s":"g","t":0.585,"f":-0.85,"p":-0.85,"g":-0.85},{"s":"g","t":0.602,"f":-0.80,"p":-0.80,"g":-0.80},{"s":"g","t":0.62,"f":-0.82,"p":-0.82,"g":-0.82},{"s":"g","t":0.637,"f":-0.88,"p":-0.88,"g":-0.88},{"s":"g","t":0.655,"f":-0.98,"p":-0.98,"g":-0.98},{"s":"g","t":0.673,"f":-1.12,"p":-1.12,"g":-1.12},{"s":"g","t":0.69,"f":-1.22,"p":-1.22,"g":-1.22},{"s":"g","t":0.708,"f":-1.31,"p":-1.31,"g":-1.31},{"s":"g","t":0.73,"f":-1.40,"p":-1.40,"g":-1.40},{"s":"g","t":0.749,"f":-1.31,"p":-1.31,"g":-1.31},{"s":"g","t":0.767,"f":-1.29,"p":-1.29,"g":-1.29},{"s":"g","t":0.784,"f":-1.28,"p":-1.28,"g":-1.28},{"s":"g","t":0.80,"f":-1.30,"p":-1.30,"g":-1.30},{"s":"g","t":0.82,"f":-1.30,"p":-1.30,"g":-1.30},{"s":"g","t":0.837,"f":-1.24,"p":-1.24,"g":-1.24},{"s":"g","t":0.854,"f":-1.30,"p":-1.30,"g":-1.30},{"s":"g","t":0.872,"f":-1.45,"p":-1.45,"g":-1.45},{"s":"g","t":0.89,"f":-1.56,"p":-1.56,"g":-1.56},{"s":"g","t":0.907,"f":-1.62,"p":-1.62,"g":-1.62},{"s":"g","t":0.924,"f":-1.64,"p":-1.62,"g":-1.60},{"s":"g","t":0.936,"f":-1.56,"p":-1.58,"g":-1.55},{"s":"g","t":0.947,"f":-1.73,"p":-1.78,"g":-1.72},{"s":"g","t":0.96,"f":-1.90,"p":-1.94,"g":-1.86},{"s":"g","t":0.977,"f":-1.93,"p":-1.96,"g":-1.88},{"s":"g","t":0.988,"f":-1.87,"p":-1.90,"g":-1.84},{"s":"g","t":1.0,"f":-1.82,"p":-1.84,"g":-1.78},
{"s":"r","t":0,"f":0,"p":0,"g":0},{"s":"r","t":0.01,"f":-0.07,"p":-0.07,"g":-0.07},{"s":"r","t":0.025,"f":-0.16,"p":-0.16,"g":-0.16},{"s":"r","t":0.04,"f":-0.02,"p":-0.02,"g":-0.02},{"s":"r","t":0.055,"f":-0.05,"p":-0.05,"g":-0.05},{"s":"r","t":0.067,"f":-0.09,"p":-0.09,"g":-0.09},{"s":"r","t":0.078,"f":-0.12,"p":-0.12,"g":-0.12},{"s":"r","t":0.09,"f":-0.07,"p":-0.07,"g":-0.07},{"s":"r","t":0.10,"f":-0.15,"p":-0.15,"g":-0.15},{"s":"r","t":0.113,"f":-0.21,"p":-0.21,"g":-0.21},{"s":"r","t":0.125,"f":-0.27,"p":-0.27,"g":-0.27},{"s":"r","t":0.137,"f":-0.34,"p":-0.34,"g":-0.34},{"s":"r","t":0.148,"f":-0.46,"p":-0.46,"g":-0.46},{"s":"r","t":0.16,"f":-0.37,"p":-0.37,"g":-0.37},{"s":"r","t":0.17,"f":-0.30,"p":-0.30,"g":-0.30},{"s":"r","t":0.183,"f":-0.27,"p":-0.27,"g":-0.27},{"s":"r","t":0.195,"f":-0.22,"p":-0.22,"g":-0.22},{"s":"r","t":0.204,"f":-0.27,"p":-0.27,"g":-0.27},{"s":"r","t":0.21,"f":-0.03,"p":-0.03,"g":-0.03},{"s":"r","t":0.222,"f":-0.15,"p":-0.15,"g":-0.15},{"s":"r","t":0.233,"f":-0.30,"p":-0.30,"g":-0.30},{"s":"r","t":0.247,"f":-0.43,"p":-0.43,"g":-0.43},{"s":"r","t":0.26,"f":-0.55,"p":-0.55,"g":-0.55},{"s":"r","t":0.27,"f":-0.51,"p":-0.51,"g":-0.51},{"s":"r","t":0.282,"f":-0.58,"p":-0.58,"g":-0.58},{"s":"r","t":0.294,"f":-0.67,"p":-0.67,"g":-0.67},{"s":"r","t":0.306,"f":-0.68,"p":-0.68,"g":-0.68},{"s":"r","t":0.317,"f":-0.60,"p":-0.60,"g":-0.60},{"s":"r","t":0.33,"f":-0.49,"p":-0.49,"g":-0.49},{"s":"r","t":0.34,"f":-0.46,"p":-0.46,"g":-0.46},{"s":"r","t":0.352,"f":-0.43,"p":-0.43,"g":-0.43},{"s":"r","t":0.364,"f":-0.37,"p":-0.37,"g":-0.37},{"s":"r","t":0.376,"f":-0.55,"p":-0.55,"g":-0.55},{"s":"r","t":0.387,"f":-0.61,"p":-0.61,"g":-0.61},{"s":"r","t":0.40,"f":-0.71,"p":-0.71,"g":-0.71},{"s":"r","t":0.41,"f":-0.64,"p":-0.64,"g":-0.64},{"s":"r","t":0.42,"f":-0.67,"p":-0.67,"g":-0.67},{"s":"r","t":0.432,"f":-0.60,"p":-0.60,"g":-0.60},{"s":"r","t":0.446,"f":-0.65,"p":-0.65,"g":-0.65},{"s":"r","t":0.457,"f":-0.57,"p":-0.57,"g":-0.57},{"s":"r","t":0.467,"f":-0.64,"p":-0.64,"g":-0.64},{"s":"r","t":0.48,"f":-0.61,"p":-0.61,"g":-0.61},{"s":"r","t":0.49,"f":-0.67,"p":-0.67,"g":-0.67},{"s":"r","t":0.50,"f":-0.73,"p":-0.73,"g":-0.73},{"s":"r","t":0.51,"f":-0.67,"p":-0.67,"g":-0.67},{"s":"r","t":0.533,"f":-0.88,"p":-0.88,"g":-0.88},{"s":"r","t":0.545,"f":-0.79,"p":-0.79,"g":-0.79},{"s":"r","t":0.557,"f":-0.73,"p":-0.73,"g":-0.73},{"s":"r","t":0.568,"f":-0.67,"p":-0.67,"g":-0.67},{"s":"r","t":0.58,"f":-0.64,"p":-0.64,"g":-0.64},{"s":"r","t":0.59,"f":-0.65,"p":-0.65,"g":-0.65},{"s":"r","t":0.60,"f":-0.62,"p":-0.62,"g":-0.62},{"s":"r","t":0.608,"f":-0.40,"p":-0.40,"g":-0.40},{"s":"r","t":0.625,"f":-0.51,"p":-0.51,"g":-0.51},{"s":"r","t":0.642,"f":-0.36,"p":-0.36,"g":-0.36},{"s":"r","t":0.66,"f":-0.54,"p":-0.54,"g":-0.54},{"s":"r","t":0.678,"f":-0.33,"p":-0.33,"g":-0.33},{"s":"r","t":0.695,"f":-0.63,"p":-0.63,"g":-0.63},{"s":"r","t":0.713,"f":-0.77,"p":-0.77,"g":-0.77},{"s":"r","t":0.726,"f":-0.77,"p":-0.77,"g":-0.77},{"s":"r","t":0.742,"f":-0.99,"p":-0.99,"g":-0.99},{"s":"r","t":0.754,"f":-0.84,"p":-0.84,"g":-0.84},{"s":"r","t":0.771,"f":-0.70,"p":-0.70,"g":-0.70},{"s":"r","t":0.789,"f":-0.57,"p":-0.57,"g":-0.57},{"s":"r","t":0.80,"f":-0.51,"p":-0.51,"g":-0.51},{"s":"r","t":0.818,"f":-0.75,"p":-0.75,"g":-0.75},{"s":"r","t":0.84,"f":-0.82,"p":-0.82,"g":-0.82},{"s":"r","t":0.862,"f":-0.91,"p":-0.91,"g":-0.91},{"s":"r","t":0.876,"f":-0.68,"p":-0.68,"g":-0.68},{"s":"r","t":0.894,"f":-0.60,"p":-0.60,"g":-0.60},{"s":"r","t":0.911,"f":-0.53,"p":-0.53,"g":-0.53},{"s":"r","t":0.929,"f":-0.22,"p":-0.22,"g":-0.22},{"s":"r","t":0.946,"f":-0.04,"p":-0.04,"g":-0.04},{"s":"r","t":0.958,"f":-0.08,"p":-0.08,"g":-0.08},{"s":"r","t":0.976,"f":-0.22,"p":-0.22,"g":-0.22},{"s":"r","t":0.994,"f":-0.43,"p":-0.43,"g":-0.43},{"s":"r","t":1.0,"f":-0.52,"p":-0.52,"g":-0.52}
]
},
"config": {
"font": "DejaVu Sans",
"view": {"stroke": "#555555", "strokeWidth": 1},
"axis": {"grid": false, "domain": false, "labelFont": "DejaVu Sans", "labelFontSize": 9.5, "labelColor": "#222222", "titleFont": "DejaVu Sans", "titleFontSize": 9.5, "titleFontWeight": "normal", "titleColor": "#222222", "tickColor": "#444444", "tickSize": 3.5, "labelPadding": 2, "titlePadding": 2, "labelFlush": false, "labelOverlap": false},
"title": {"font": "Liberation Serif", "fontSize": 18.5, "fontWeight": "normal", "color": "#111111"},
"legend": {"labelFont": "DejaVu Sans", "labelFontSize": 9.5, "labelColor": "#222222", "strokeColor": "#d0d0d0", "fillColor": "white", "cornerRadius": 3}
}
}
